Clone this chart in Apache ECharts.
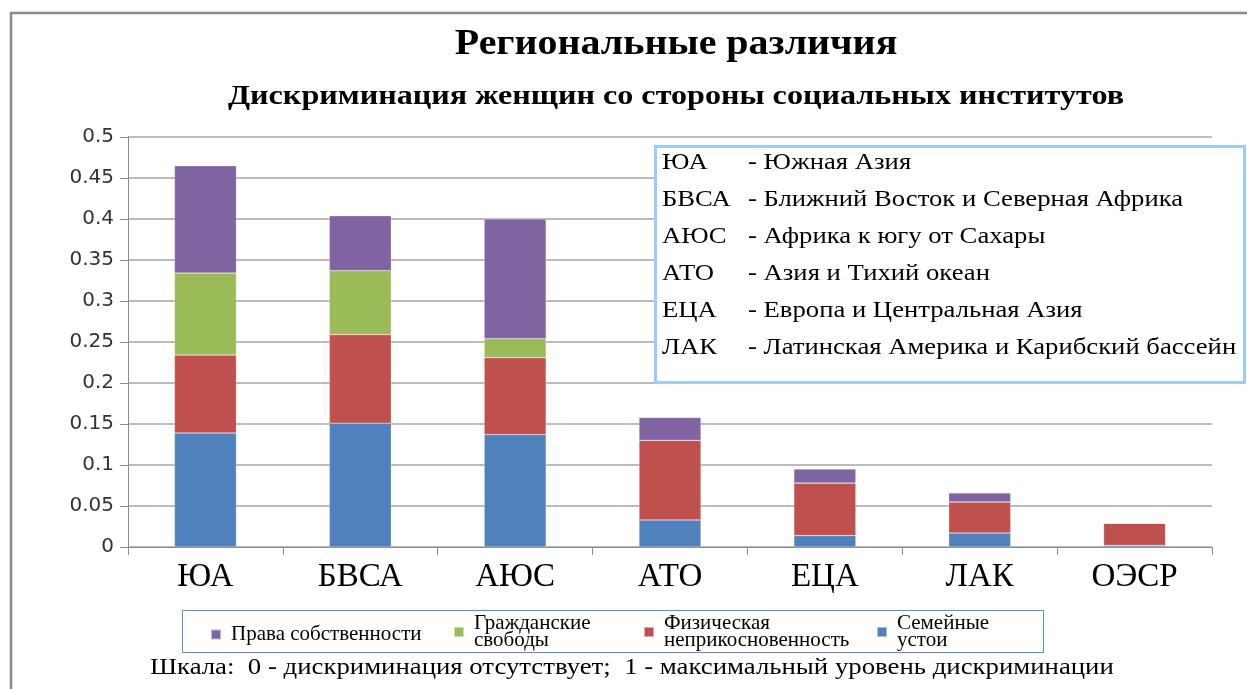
<!DOCTYPE html>
<html>
<head>
<meta charset="utf-8">
<script src="https://cdn.jsdelivr.net/npm/echarts@6/dist/echarts.min.js"></script>
<style>
  html, body { margin: 0; padding: 0; background: #fff; }
  #chart { width: 1247px; height: 689px; }
</style>
</head>
<body>
<div id="chart"></div>
<script>
const categories = ['ЮА', 'БВСА', 'АЮС', 'АТО', 'ЕЦА', 'ЛАК', 'ОЭСР'];

// stacked from bottom to top
const family   = [0.139, 0.151, 0.137, 0.033, 0.014, 0.017, 0.002];
const physical = [0.095, 0.108, 0.094, 0.097, 0.064, 0.038, 0.027];
const civil    = [0.100, 0.078, 0.023, 0,     0,     0,     0];
const property = [0.131, 0.067, 0.146, 0.028, 0.017, 0.011, 0];

const yTicks = [0, 0.05, 0.1, 0.15, 0.2, 0.25, 0.3, 0.35, 0.4, 0.45, 0.5];

const regionCodes = ['ЮА', 'БВСА', 'АЮС', 'АТО', 'ЕЦА', 'ЛАК'];
const regionNames = [
  '- Южная Азия',
  '- Ближний Восток и Северная Африка',
  '- Африка к югу от Сахары',
  '- Азия и Тихий океан',
  '- Европа и Центральная Азия',
  '- Латинская Америка и Карибский бассейн'
];

const serif = '"Liberation Serif", "Times New Roman", serif';
const chart = echarts.init(document.getElementById('chart'));

const legendItems = [
  { name: 'Права собственности', color: '#8064a2', left: 210, top: 624 },
  { name: 'Гражданские\nсвободы', color: '#9bbb59', left: 453, top: 613 },
  { name: 'Физическая\nнеприкосновенность', color: '#c0504d', left: 643, top: 613 },
  { name: 'Семейные\nустои', color: '#4f81bd', left: 876, top: 613 }
];

const makeSeries = (name, data, color) => ({
  name: name,
  type: 'bar',
  stack: 'total',
  data: data,
  barWidth: '40%',
  itemStyle: { color: color, borderColor: 'rgba(255,255,255,0.5)', borderWidth: 0.5 }
});

// stretched text helper (the original picture is wider than tall)
const stretchedText = (text, x, y, font, sx, align) => ({
  type: 'text', x: x, y: y, scaleX: sx, z: 11, silent: true,
  style: { text: text, font: font + ' ' + serif, fill: '#000', verticalAlign: 'middle', align: align || 'left' }
});

const texts = [];
regionCodes.forEach((code, i) => {
  texts.push(stretchedText(code, 662, 163 + i * 37, '23px', 1.16));
  texts.push(stretchedText(regionNames[i], 748, 163 + i * 37, '23px', 1.16));
});
texts.push(stretchedText('Региональные различия', 676, 45, 'bold 36px', 1.11, 'center'));
texts.push(stretchedText('Дискриминация женщин со стороны социальных институтов', 676, 97, 'bold 27px', 1.19, 'center'));
texts.push(stretchedText('Шкала:  0 - дискриминация отсутствует;  1 - максимальный уровень дискриминации', 150, 668, '24px', 1.116));

const option = {
  animation: false,
  backgroundColor: '#fff',
  legend: legendItems.map(item => ({
    data: [item.name],
    left: item.left,
    top: item.top,
    padding: 0,
    itemWidth: 10,
    itemHeight: 10,
    selectedMode: false,
    icon: 'rect',
    textStyle: { fontFamily: serif, fontSize: 21, lineHeight: 17, color: '#000', padding: [0, 0, 0, 5] }
  })),
  grid: { left: 128, right: 35, top: 137, bottom: 142, containLabel: false },
  xAxis: {
    type: 'category',
    data: categories,
    axisLine: { lineStyle: { color: '#8c8c8c', width: 1 } },
    axisTick: { show: true, length: 8, alignWithLabel: false, lineStyle: { color: '#8c8c8c' } },
    axisLabel: { fontFamily: serif, fontSize: 33, color: '#000', margin: 14 }
  },
  yAxis: {
    type: 'value',
    min: 0, max: 0.5, interval: 0.05,
    axisLine: { show: true, lineStyle: { color: '#8c8c8c' } },
    axisTick: { show: true, length: 8, lineStyle: { color: '#8c8c8c' } },
    axisLabel: {
      fontFamily: '"DejaVu Sans", sans-serif',
      fontSize: 20, color: '#333', margin: 14,
      formatter: v => {
        const t = yTicks.find(x => Math.abs(x - v) < 1e-9);
        return t === undefined ? '' : String(t);
      }
    },
    splitLine: { lineStyle: { color: '#a6a6a6', width: 1.5 } }
  },
  series: [
    makeSeries('Семейные\nустои', family, '#4f81bd'),
    makeSeries('Физическая\nнеприкосновенность', physical, '#c0504d'),
    makeSeries('Гражданские\nсвободы', civil, '#9bbb59'),
    makeSeries('Права собственности', property, '#8064a2')
  ],
  graphic: [
    {
      type: 'rect', z: -1, silent: true,
      shape: { x: 11, y: 13, width: 1300, height: 800 },
      style: { fill: '#fff', stroke: '#8c8c8c', lineWidth: 2.5 }
    },
    {
      type: 'rect', z: 10, silent: true,
      shape: { x: 655.5, y: 146.5, width: 589, height: 236 },
      style: { fill: '#fff', stroke: '#9cccfa', lineWidth: 3 }
    },
    {
      type: 'rect', z: 10, silent: true,
      shape: { x: 182.5, y: 610.5, width: 861, height: 42 },
      style: { fill: 'none', stroke: '#5b8fd0', lineWidth: 1 }
    }
  ].concat(texts)
};

chart.setOption(option);
</script>
</body>
</html>
